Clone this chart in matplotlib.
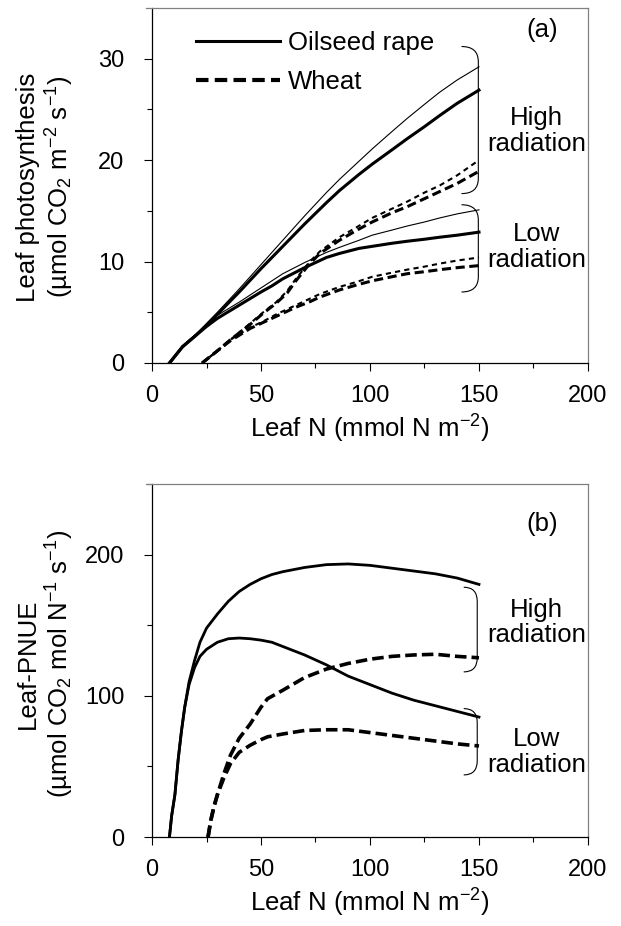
import matplotlib.pyplot as plt
from matplotlib.path import Path
from matplotlib.patches import PathPatch

plt.rcParams['font.family'] = ['Liberation Sans', 'DejaVu Sans']
plt.rcParams['mathtext.fontset'] = 'custom'
plt.rcParams['mathtext.rm'] = 'Liberation Sans'
plt.rcParams['mathtext.it'] = 'Liberation Sans:italic'

# (a) leaf photosynthesis vs leaf N
rape_n = [8, 14, 20, 25, 30, 40, 50, 55, 60, 70, 80, 86, 95, 101, 110, 117, 125, 132, 140, 150]
rape_high_thick = [0, 1.6, 2.7, 3.7, 4.8, 7.0, 9.3, 10.4, 11.5, 13.7, 15.8, 17.0, 18.6, 19.6, 21.0, 22.1, 23.3, 24.4, 25.6, 26.9]
rape_high_thin = [0, 1.7, 2.8, 3.9, 5.0, 7.3, 9.7, 10.9, 12.1, 14.5, 16.8, 18.1, 19.9, 21.1, 22.8, 24.1, 25.5, 26.7, 27.9, 29.2]
rape_low_thick = [0, 1.6, 2.7, 3.6, 4.4, 5.7, 7.0, 7.6, 8.3, 9.4, 10.4, 10.8, 11.3, 11.5, 11.8, 12.0, 12.2, 12.4, 12.6, 12.9]
rape_low_thin = [0, 1.7, 2.8, 3.7, 4.7, 6.0, 7.4, 8.1, 8.8, 9.9, 10.9, 11.4, 12.1, 12.6, 13.1, 13.5, 13.9, 14.3, 14.7, 15.1]

wheat_n = [23, 30, 36, 45, 51, 57, 62, 66, 72, 77, 86, 94, 101, 110, 117, 125, 132, 140, 150]
wheat_high_thick = [0, 1.2, 2.3, 3.8, 4.9, 5.9, 6.9, 8.1, 9.7, 10.8, 12.1, 13.1, 13.9, 14.8, 15.4, 16.2, 16.9, 17.7, 18.9]
wheat_high_thin = [0, 1.2, 2.3, 3.9, 5.0, 6.0, 7.1, 8.3, 9.9, 11.0, 12.4, 13.4, 14.3, 15.2, 15.9, 16.8, 17.5, 18.5, 20.0]
wheat_low_thick = [0, 1.2, 2.2, 3.4, 4.0, 4.6, 5.1, 5.5, 6.0, 6.5, 7.2, 7.7, 8.1, 8.5, 8.8, 9.0, 9.2, 9.4, 9.6]
wheat_low_thin = [0, 1.2, 2.3, 3.5, 4.1, 4.8, 5.3, 5.7, 6.3, 6.8, 7.5, 8.0, 8.5, 8.9, 9.2, 9.5, 9.8, 10.1, 10.4]

# (b) leaf PNUE vs leaf N
rape_n_b = [8, 9, 10.5, 12, 13.5, 15, 17, 19.5, 22, 25, 30, 35, 40, 45, 50, 55, 60, 70, 80, 90, 100, 110, 120, 130, 140, 150]
rape_pnue_high = [0, 15, 30, 55, 75, 92, 110, 125, 138, 148, 158, 167, 174, 179, 183, 186, 188, 191, 193, 193.5, 192.5, 190.5, 188.5, 186.5, 183.5, 179]
rape_pnue_low = [0, 15, 30, 55, 75, 92, 108, 120, 128, 133, 138, 140.5, 141, 140.5, 139.5, 138, 135, 129, 122, 114, 108, 102, 97, 93, 89, 85]

wheat_n_b = [25.7, 27, 28.5, 30, 33, 36, 40, 45, 50, 53, 60, 70, 80, 90, 100, 110, 120, 130, 140, 150]
wheat_pnue_high = [0, 12, 22, 30, 45, 58, 70, 80, 92, 98, 104, 113, 119, 123, 126, 128, 129, 129.5, 128, 127]
wheat_pnue_low = [0, 12, 22, 30, 42, 52, 60, 65, 69, 71, 73, 75.5, 76, 76, 74, 72, 70, 68, 66, 64.5]

fig = plt.figure(figsize=(6.21, 9.26), dpi=100)
ax1 = fig.add_axes([0.2448, 0.608, 0.702, 0.3834])
ax2 = fig.add_axes([0.2448, 0.0961, 0.702, 0.381])

tick_fs = 17
label_fs = 18.5


def style_axes(ax, ymax, ymajor):
    ax.set_xlim(0, 200)
    ax.set_ylim(0, ymax)
    ax.set_xticks(range(0, 201, 50))
    ax.set_xticks(range(0, 201, 25), minor=True)
    ax.set_yticks(range(0, ymax, ymajor))
    ax.set_yticks([v / 2 for v in range(0, 2 * ymax, ymajor)], minor=True)
    ax.tick_params(which='major', direction='out', length=6, width=0.8, labelsize=tick_fs)
    ax.tick_params(which='minor', direction='out', length=3.5, width=0.8)
    ax.tick_params(axis='x', pad=9.5)
    ax.tick_params(axis='y', pad=14)
    for s in ['left', 'bottom']:
        ax.spines[s].set_color('black')
        ax.spines[s].set_linewidth(0.9)
    for s in ['top', 'right']:
        ax.spines[s].set_color('#808080')
        ax.spines[s].set_linewidth(0.9)
    ax.spines['top'].set_bounds(-2.7, 200)
    ax.set_xlabel('Leaf N (mmol N m$^{-2}$)', fontsize=label_fs, labelpad=4.5)


def brace(ax, x_left, x_right, y_bottom, y_top, r):
    verts = [(x_left, y_top), (x_right, y_top), (x_right, y_top - r),
             (x_right, y_bottom + r), (x_right, y_bottom), (x_left, y_bottom)]
    codes = [Path.MOVETO, Path.CURVE3, Path.CURVE3, Path.LINETO, Path.CURVE3, Path.CURVE3]
    ax.add_patch(PathPatch(Path(verts, codes), fill=False, lw=0.8, color='black', clip_on=False))


# panel (a)
thick = 2.2
thin = 0.8
l_rape, = ax1.plot(rape_n, rape_high_thick, color='black', lw=thick, label='Oilseed rape')
ax1.plot(rape_n, rape_high_thin, color='black', lw=thin)
ax1.plot(rape_n, rape_low_thick, color='black', lw=thick)
ax1.plot(rape_n, rape_low_thin, color='black', lw=thin)
l_wheat, = ax1.plot(wheat_n, wheat_high_thick, color='black', lw=thick, dashes=(3, 1.5), label='Wheat')
ax1.plot(wheat_n, wheat_high_thin, color='black', lw=1.5, dashes=(2.5, 2))
ax1.plot(wheat_n, wheat_low_thick, color='black', lw=thick, dashes=(3, 1.5))
ax1.plot(wheat_n, wheat_low_thin, color='black', lw=1.5, dashes=(2.5, 2))

style_axes(ax1, 35, 10)
ax1.set_ylabel('Leaf photosynthesis\n(µmol CO$_2$ m$^{-2}$ s$^{-1}$)', fontsize=label_fs,
               va='center', linespacing=1.15)
ax1.yaxis.set_label_coords(-0.243, 0.495)

leg = ax1.legend(handles=[l_rape, l_wheat], loc='upper left', bbox_to_anchor=(0.1, 0.935),
                 frameon=False, fontsize=label_fs, handlelength=3.3, handletextpad=0.3,
                 borderpad=0, borderaxespad=0, labelspacing=0.58)
leg.get_lines()[1].set_linewidth(3)

ax1.text(179, 32.8, '(a)', fontsize=label_fs, ha='center', va='center')
ax1.text(176.5, 22.9, 'High\nradiation', fontsize=label_fs, ha='center', va='center', linespacing=1.1)
ax1.text(176.5, 11.4, 'Low\nradiation', fontsize=label_fs, ha='center', va='center', linespacing=1.1)
brace(ax1, 142, 149.7, 16.7, 31.2, 1.5)
brace(ax1, 142, 149.7, 7.0, 15.6, 1.5)

# panel (b)
ax2.plot(rape_n_b, rape_pnue_high, color='black', lw=2.0)
ax2.plot(rape_n_b, rape_pnue_low, color='black', lw=2.0)
ax2.plot(wheat_n_b, wheat_pnue_high, color='black', lw=2.6, dashes=(3.2, 1.4))
ax2.plot(wheat_n_b, wheat_pnue_low, color='black', lw=2.6, dashes=(3.2, 1.4))

style_axes(ax2, 250, 100)
ax2.set_yticks(range(0, 201, 100))
ax2.set_yticks(range(0, 251, 50), minor=True)
ax2.set_ylabel('Leaf-PNUE\n(µmol CO$_2$ mol N$^{-1}$ s$^{-1}$)', fontsize=label_fs,
               va='center', linespacing=1.15)
ax2.yaxis.set_label_coords(-0.243, 0.49)

ax2.text(179, 222, '(b)', fontsize=label_fs, ha='center', va='center')
ax2.text(176.5, 152, 'High\nradiation', fontsize=label_fs, ha='center', va='center', linespacing=1.1)
ax2.text(176.5, 60.4, 'Low\nradiation', fontsize=label_fs, ha='center', va='center', linespacing=1.1)
brace(ax2, 143, 149.2, 117, 177, 10)
brace(ax2, 143, 149.2, 44, 91, 10)

fig.savefig('out.png', dpi=100)
